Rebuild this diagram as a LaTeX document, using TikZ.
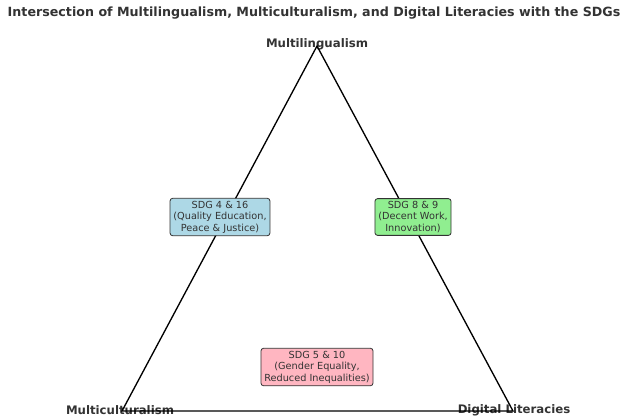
\documentclass[tikz,border=0pt]{standalone}
\usepackage{fontspec}
\setmainfont{DejaVu Sans}
\definecolor{txt}{HTML}{333333}
\definecolor{bxblue}{HTML}{ADD8E6}
\definecolor{bxgreen}{HTML}{90EE90}
\definecolor{bxpink}{HTML}{FFB6C1}
\definecolor{edge}{HTML}{333333}
\begin{document}
\begin{tikzpicture}[x=0.75pt,y=-0.75pt,
  vlabel/.style={font=\bfseries\fontsize{8.8}{10}\selectfont, text=txt, inner sep=0pt},
  sdg/.style={draw=edge, line width=0.6pt, rounded corners=2pt, align=center,
    font=\fontsize{7.3}{8.6}\selectfont, text=txt, inner xsep=2.5pt, inner ysep=2pt},
  tri/.style={line width=1pt, black}]
\useasboundingbox (0,0) rectangle (627,419);
\node[font=\bfseries\fontsize{9.5}{11}\selectfont, text=txt, inner sep=0pt] (title) at (314,13) {Intersection of Multilingualism, Multiculturalism, and Digital Literacies with the SDGs};
\node[vlabel] (lm) at (317,44) {Multilingualism};
\node[vlabel] (lc) at (120,410) {Multiculturalism};
\node[vlabel] (ld) at (514,410) {Digital Literacies};
\coordinate (A) at (317,46);
\coordinate (B) at (122,411);
\coordinate (C) at (513,411);
\draw[tri] (A) -- (B) -- (C) -- cycle;
\node[sdg, fill=bxblue] (s416) at (220,217) {SDG 4 \& 16\\(Quality Education,\\Peace \& Justice)};
\node[sdg, fill=bxgreen] (s89) at (413,217) {SDG 8 \& 9\\(Decent Work,\\Innovation)};
\node[sdg, fill=bxpink] (s510) at (317,367) {SDG 5 \& 10\\(Gender Equality,\\Reduced Inequalities)};
\end{tikzpicture}
\end{document}
